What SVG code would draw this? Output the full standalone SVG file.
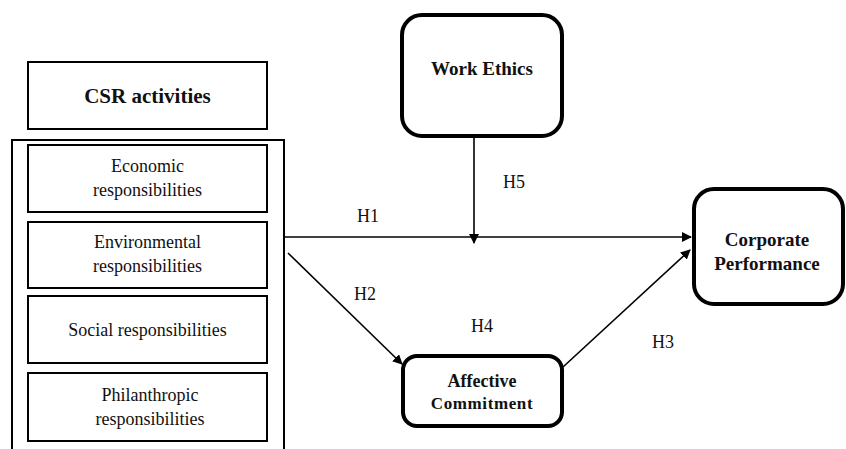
<svg xmlns="http://www.w3.org/2000/svg" width="846" height="449" viewBox="0 0 846 449" font-family="Liberation Serif, Tinos, DejaVu Serif, Noto Serif, serif">
<defs>
<style>
.box{fill:#fff;stroke:#000;stroke-width:2}
.rbox{fill:#fff;stroke:#000;stroke-width:4}
.t{font-size:18px;fill:#111;text-anchor:middle}
.b{font-weight:bold}
.ln{stroke:#000;stroke-width:1.6;fill:none}
</style>
<marker id="ah" markerWidth="10" markerHeight="10" refX="9" refY="5" orient="auto" markerUnits="userSpaceOnUse">
<path d="M0,0 L10,5 L0,10 z" fill="#000"/>
</marker>
</defs>
<rect width="846" height="449" fill="#fff"/>
<g id="csr-title">
<rect class="box" x="28" y="62" width="239" height="67"/>
<text class="t b" x="147.5" y="103" style="font-size:21px">CSR activities</text>
</g>
<g id="csr-container">
<path class="box" d="M12,452 L12,140 L284,140 L284,452" fill="none"/>
</g>
<g id="economic">
<rect class="box" x="28" y="145" width="239" height="67"/>
<text class="t" x="147.5" y="172">Economic</text>
<text class="t" x="147.5" y="196">responsibilities</text>
</g>
<g id="environmental">
<rect class="box" x="28" y="222" width="239" height="66"/>
<text class="t" x="147.5" y="248">Environmental</text>
<text class="t" x="147.5" y="272">responsibilities</text>
</g>
<g id="social">
<rect class="box" x="28" y="296" width="239" height="67"/>
<text class="t" x="147.5" y="336">Social responsibilities</text>
</g>
<g id="philanthropic">
<rect class="box" x="28" y="373" width="239" height="68"/>
<text class="t" x="150" y="401">Philanthropic</text>
<text class="t" x="150" y="425">responsibilities</text>
</g>
<g id="work-ethics">
<rect class="rbox" x="402" y="15" width="160" height="121" rx="20"/>
<text class="t b" x="482" y="75" style="font-size:19px">Work Ethics</text>
</g>
<g id="corporate-performance">
<rect class="rbox" x="694" y="189" width="149" height="115" rx="20"/>
<text class="t b" x="767" y="246" style="font-size:19px">Corporate</text>
<text class="t b" x="767" y="270" style="font-size:19px">Performance</text>
</g>
<g id="affective-commitment">
<rect class="rbox" x="403" y="356" width="159" height="70" rx="14"/>
<text class="t b" x="482" y="387" style="font-size:18px">Affective</text>
<text class="t b" x="482" y="409" style="font-size:17px;letter-spacing:0.6px">Commitment</text>
</g>
<g id="connectors">
<line class="ln" x1="284" y1="237" x2="691" y2="237" marker-end="url(#ah)"/>
<line class="ln" x1="474" y1="137" x2="474" y2="243" marker-end="url(#ah)"/>
<line class="ln" x1="288" y1="253" x2="402" y2="364" marker-end="url(#ah)"/>
<line class="ln" x1="563" y1="367" x2="690" y2="250" marker-end="url(#ah)"/>
<text class="t" x="368" y="222">H1</text>
<text class="t" x="514" y="188">H5</text>
<text class="t" x="365" y="300">H2</text>
<text class="t" x="482" y="332">H4</text>
<text class="t" x="663" y="348">H3</text>
</g>
</svg>
